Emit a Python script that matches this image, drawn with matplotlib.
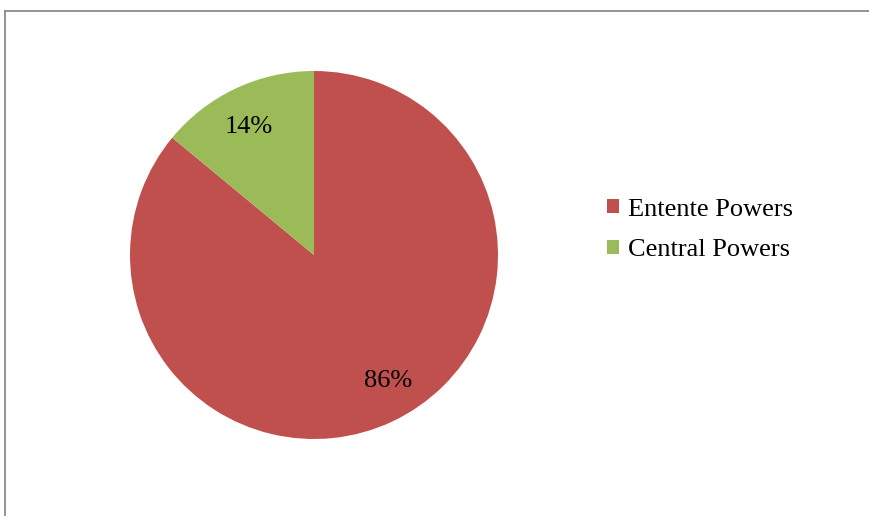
import matplotlib.pyplot as plt
from matplotlib.lines import Line2D

labels = ["Entente Powers", "Central Powers"]
shares = [86, 14]
colors = ["#C0504D", "#9BBB59"]

plt.rcParams['font.family'] = ['Liberation Serif', 'DejaVu Serif']

W, H = 870, 516
fig = plt.figure(figsize=(W / 100, H / 100), dpi=100)

# pie centred at (314, 255) px with radius 184 px
cx, cy, r = 314, 255, 184
ax = fig.add_axes([(cx - r) / W, (H - cy - r) / H, 2 * r / W, 2 * r / H])
wedges, _, autotexts = ax.pie(shares, colors=colors, startangle=90, counterclock=False,
                              radius=1, autopct='%1.0f%%', pctdistance=0.8,
                              textprops=dict(fontsize=19, color='black'))
# small nudges so the labels sit where the original puts them
x0, y0 = autotexts[0].get_position()
autotexts[0].set_position((x0 + 0.06, y0 + 0.04))
x1, y1 = autotexts[1].get_position()
autotexts[1].set_position((x1 - 0.015, y1 - 0.03))
ax.set_xlim(-1, 1)
ax.set_ylim(-1, 1)
ax.set_aspect('auto')
ax.axis('off')

fig.legend(wedges, labels, loc='center left', bbox_to_anchor=(607 / W, (H - 230) / H),
           frameon=False, fontsize=19, handlelength=0.45, handleheight=0.45,
           handletextpad=0.35, labelspacing=0.72, borderpad=0, borderaxespad=0)

# chart frame (only left and top edges visible)
fig.add_artist(Line2D([5 / W, 5 / W], [0, 1 - 10.5 / H], color='#8a8a8a', lw=1.3))
fig.add_artist(Line2D([5 / W, 1], [1 - 10.5 / H, 1 - 10.5 / H], color='#8a8a8a', lw=1.3))

fig.savefig("out.png", dpi=100)
